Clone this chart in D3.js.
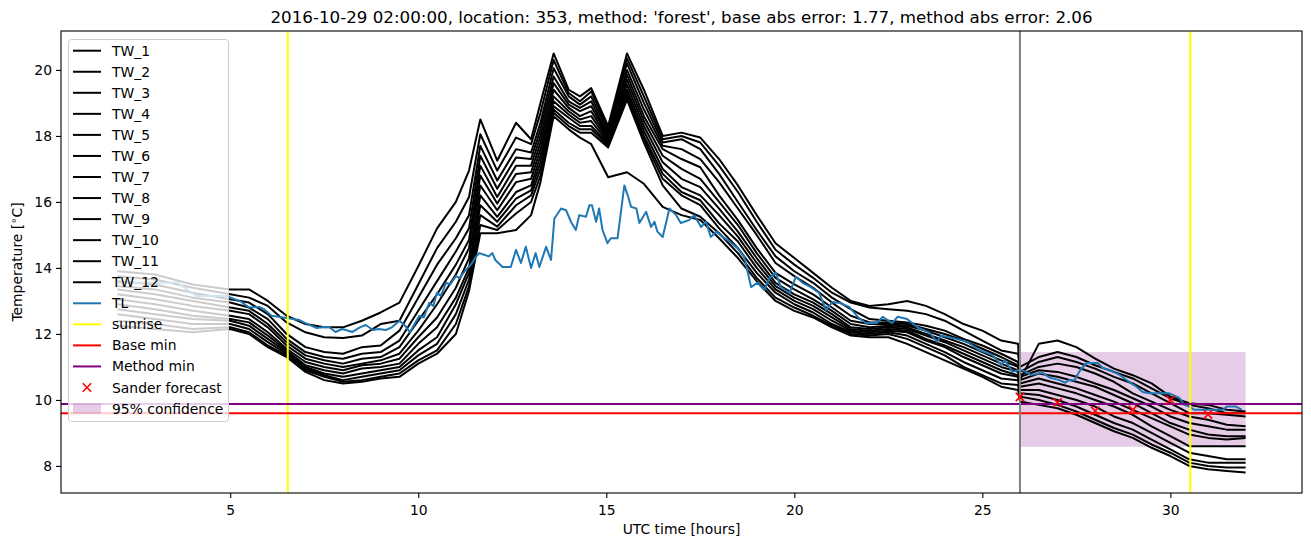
<!DOCTYPE html>
<html><head><meta charset="utf-8">
<script src="https://cdn.jsdelivr.net/npm/d3@7"></script>
<style>
body{margin:0;background:#fff;}
text{font-family:"DejaVu Sans",sans-serif;}
</style></head>
<body>
<svg id="chart" width="1311" height="547"></svg>
<script>
// ---------------- data ----------------
const titleText = "2016-10-29 02:00:00, location: 353, method: 'forest', base abs error: 1.77, method abs error: 2.06";
const xTicks = [5, 10, 15, 20, 25, 30];
const yTicks = [8, 10, 12, 14, 16, 18, 20];

const twTime = [2,3,4,5,5.5,6,6.5,7,7.5,8,8.5,9,9.5,10,10.5,11,11.35,11.65,12.1,12.6,13.0,13.25,13.6,14.0,14.3,14.6,15.05,15.55,16.0,16.5,17.0,17.5,18.0,18.5,19.0,19.5,20.0,20.5,21.0,21.5,22.0,22.5,23.0,23.5,24.0,24.5,25.0,25.5,25.95,26.0,26.5,27.0,27.5,28.0,28.5,29.0,29.5,30.0,30.5,31.0,31.5,32.0];

const TW_1 = [13.9,13.8,13.5,13.35,13.35,13.0,12.55,12.3,12.2,12.2,12.4,12.65,12.95,14.05,15.2,16.0,16.95,18.5,17.25,18.4,17.9,19.0,20.5,19.4,19.2,19.45,18.3,20.5,19.4,18.0,18.1,17.95,17.3,16.5,15.6,14.75,14.3,13.85,13.4,13.0,12.85,12.9,13.0,12.85,12.6,12.3,12.1,11.8,11.7,10.6,11.7,11.8,11.6,11.25,10.95,10.75,10.5,10.1,9.9,9.85,9.7,9.65];
const TW_2 = [13.75,13.65,13.4,13.2,13.1,12.85,12.35,12.05,11.9,11.88,11.95,12.3,12.4,13.5,14.6,15.4,16.15,18.05,16.95,17.95,17.75,18.7,20.3,19.3,19.05,19.35,18.2,20.35,19.2,17.9,18.0,17.8,17.1,16.3,15.4,14.55,14.1,13.7,13.25,12.95,12.8,12.75,12.7,12.6,12.4,12.1,11.8,11.5,11.4,11.0,11.3,11.45,11.3,11.05,10.85,10.65,10.35,10.05,9.85,9.75,9.6,9.6];
const TW_3 = [13.6,13.5,13.25,13.05,12.95,12.6,12.0,11.6,11.45,11.4,11.6,11.65,12.1,13.1,14.1,14.9,15.6,17.7,16.65,17.6,17.5,18.4,20.05,19.2,18.95,19.2,18.1,20.2,19.0,17.8,17.9,17.6,16.85,16.0,15.15,14.35,13.9,13.55,13.1,12.75,12.45,12.4,12.35,12.25,12.1,11.85,11.65,11.4,11.15,10.85,11.15,11.3,11.15,10.95,10.7,10.5,10.2,9.9,9.6,9.6,9.55,9.5];
const TW_4 = [13.45,13.35,13.1,12.95,12.8,12.45,11.85,11.45,11.3,11.25,11.4,11.45,11.8,12.7,13.6,14.5,15.2,17.4,16.4,17.35,17.3,18.2,19.8,19.05,18.85,19.05,18.0,20.0,18.8,17.7,17.6,17.3,16.6,15.8,15.0,14.15,13.75,13.4,12.95,12.55,12.35,12.35,12.3,12.15,12.0,11.8,11.55,11.3,11.05,10.75,11.0,11.1,11.0,10.8,10.55,10.2,9.95,9.7,9.5,9.4,9.25,9.2];
const TW_5 = [13.35,13.2,13.0,12.8,12.7,12.3,11.75,11.35,11.2,11.1,11.25,11.3,11.6,12.4,13.2,14.1,14.85,17.1,16.15,17.1,17.1,18.0,19.6,18.95,18.75,18.9,17.95,19.85,18.6,17.6,17.3,17.05,16.2,15.45,14.6,13.85,13.5,13.2,12.8,12.4,12.3,12.3,12.25,12.1,11.9,11.7,11.45,11.2,11.0,10.7,10.9,10.85,10.7,10.5,10.3,10.05,9.8,9.5,9.3,9.2,9.1,9.1];
const TW_6 = [13.2,13.05,12.85,12.7,12.6,12.2,11.65,11.25,11.1,11.0,11.1,11.2,11.4,12.1,12.9,13.8,14.6,16.8,15.95,16.85,16.9,17.8,19.4,18.85,18.6,18.75,17.9,19.7,18.45,17.4,17.0,16.7,16.0,15.3,14.45,13.7,13.35,13.05,12.7,12.3,12.2,12.25,12.2,12.0,11.8,11.6,11.35,11.1,10.9,10.6,10.8,10.7,10.55,10.4,10.15,9.9,9.6,9.3,9.1,8.95,8.9,8.9];
const TW_7 = [13.05,12.9,12.7,12.55,12.45,12.05,11.55,11.15,11.0,10.9,11.05,11.1,11.25,11.9,12.5,13.4,14.3,16.5,15.75,16.6,16.7,17.6,19.2,18.75,18.5,18.6,17.85,19.55,18.3,17.2,16.7,16.45,15.8,15.1,14.3,13.55,13.2,12.95,12.6,12.2,12.15,12.2,12.15,11.95,11.75,11.5,11.25,11.0,10.85,10.5,10.65,10.5,10.35,10.15,9.95,9.7,9.45,9.2,8.95,8.85,8.8,8.85];
const TW_8 = [12.9,12.75,12.55,12.45,12.35,11.95,11.5,11.05,10.9,10.8,10.95,11.0,11.1,11.7,12.2,13.1,14.0,16.2,15.55,16.3,16.5,17.4,19.05,18.65,18.4,18.45,17.8,19.4,18.15,17.0,16.45,16.2,15.6,14.95,14.15,13.45,13.1,12.85,12.5,12.15,12.1,12.15,12.1,11.85,11.65,11.4,11.15,10.9,10.75,10.4,10.5,10.35,10.2,10.0,9.8,9.55,9.2,8.9,8.6,8.6,8.6,8.6];
const TW_9 = [12.75,12.6,12.45,12.4,12.25,11.85,11.45,11.0,10.8,10.7,10.8,10.9,11.0,11.5,11.9,12.9,13.85,15.9,15.4,16.1,16.35,17.2,18.9,18.55,18.3,18.3,17.75,19.3,18.0,16.85,16.3,16.05,15.35,14.8,14.0,13.35,13.0,12.75,12.4,12.1,12.05,12.1,12.05,11.8,11.6,11.3,11.05,10.8,10.7,10.3,10.3,10.15,10.0,9.8,9.5,9.3,9.0,8.7,8.4,8.3,8.2,8.2];
const TW_10 = [12.6,12.45,12.3,12.3,12.15,11.75,11.4,10.95,10.75,10.6,10.7,10.8,10.9,11.35,11.7,12.6,13.65,15.6,15.25,15.9,16.2,17.0,18.8,18.4,18.2,18.2,17.7,19.2,17.9,16.7,16.2,15.9,15.2,14.6,13.85,13.25,12.9,12.65,12.3,12.05,12.0,12.05,11.95,11.7,11.45,11.15,10.9,10.65,10.6,10.2,10.15,10.0,9.8,9.55,9.3,9.1,8.8,8.5,8.2,8.1,8.1,8.1];
const TW_11 = [12.4,12.3,12.15,12.2,12.05,11.65,11.35,10.9,10.7,10.55,10.6,10.7,10.8,11.2,11.5,12.3,13.45,15.3,15.15,15.65,16.0,16.8,18.7,18.3,18.1,18.1,17.65,19.1,17.8,16.5,15.8,15.55,15.05,14.45,13.7,13.1,12.8,12.55,12.25,12.0,11.95,12.0,11.85,11.6,11.35,11.0,10.75,10.5,10.45,10.1,10.0,9.85,9.65,9.4,9.15,8.95,8.65,8.4,8.1,8.0,7.95,7.95];
const TW_12 = [12.25,12.15,12.05,12.15,12.0,11.6,11.3,10.85,10.6,10.5,10.55,10.65,10.7,11.1,11.4,12.0,13.3,15.05,15.05,15.15,15.6,16.6,18.6,18.2,17.95,17.75,16.75,16.9,16.55,15.85,15.6,15.45,14.9,14.3,13.6,13.0,12.7,12.5,12.2,11.95,11.9,11.9,11.7,11.45,11.2,10.95,10.7,10.4,10.3,9.95,9.85,9.75,9.55,9.3,9.05,8.85,8.55,8.3,8.0,7.9,7.85,7.8];

const twNames = ["TW_1","TW_2","TW_3","TW_4","TW_5","TW_6","TW_7","TW_8","TW_9","TW_10","TW_11","TW_12"];
const twSeries = [TW_1,TW_2,TW_3,TW_4,TW_5,TW_6,TW_7,TW_8,TW_9,TW_10,TW_11,TW_12];

const tlTime = [2.0,2.5,3.0,3.6,4.1,4.5,4.9,5.3,5.5,5.77,5.9,6.1,6.5,6.84,7.0,7.3,7.5,7.63,7.8,7.98,8.25,8.45,8.6,8.8,8.95,9.14,9.3,9.5,9.65,9.78,9.9,10.03,10.15,10.29,10.4,10.5,10.6,10.74,10.85,11.0,11.1,11.27,11.4,11.53,11.62,11.75,11.88,11.97,12.05,12.24,12.46,12.6,12.73,12.86,13.0,13.12,13.22,13.4,13.53,13.62,13.8,13.93,14.06,14.19,14.28,14.46,14.55,14.62,14.73,14.81,14.9,15.03,15.12,15.3,15.48,15.57,15.66,15.8,15.88,16.06,16.19,16.28,16.36,16.5,16.68,16.86,16.98,17.2,17.34,17.52,17.65,17.78,17.92,18.1,18.27,18.49,18.67,18.85,19.02,19.2,19.34,19.51,19.64,19.87,20.04,20.22,20.44,20.66,20.84,21.02,21.2,21.46,21.7,21.9,22.2,22.35,22.6,22.75,23.0,23.3,23.6,23.8,23.9,24.2,24.6,24.9,25.27,25.5,25.6,25.8,25.95,26.07,26.3,26.6,26.8,27.05,27.2,27.3,27.45,27.6,27.77,28.07,28.2,28.4,28.65,28.9,29.1,29.26,29.44,29.97,30.24,30.37,30.5,30.64,31.04,31.4,31.5,31.75,31.9];
const tlValue = [13.55,13.55,13.55,13.55,13.15,13.15,13.15,12.97,12.8,12.82,12.75,12.55,12.48,12.42,12.33,12.18,12.21,12.21,12.06,12.15,12.06,12.2,12.27,12.12,12.15,12.12,12.2,12.4,12.25,12.05,12.3,12.55,12.5,12.94,12.85,13.25,13.15,13.55,13.5,13.75,13.7,13.95,14.1,14.33,14.45,14.4,14.35,14.45,14.24,14.03,14.03,14.55,14.15,14.64,14.0,14.45,14.03,14.64,14.24,15.5,15.8,15.75,15.4,15.15,15.6,15.55,15.9,15.9,15.4,15.8,15.15,14.75,14.9,14.9,16.5,16.2,15.85,15.8,15.36,15.7,15.24,15.4,15.1,14.94,15.8,15.6,15.36,15.45,15.6,15.24,15.4,14.94,15.1,14.94,14.8,14.6,14.33,13.42,13.55,13.33,13.7,13.85,13.42,13.24,13.73,13.55,13.42,13.24,12.73,12.97,12.94,12.82,12.5,12.33,12.33,12.52,12.33,12.52,12.45,12.18,12.03,11.76,11.95,11.88,11.76,11.52,11.36,11.06,11.2,10.85,10.9,10.9,10.76,10.82,10.67,10.6,10.52,10.6,10.6,10.9,11.12,11.12,10.97,10.9,10.76,10.55,10.4,10.24,10.2,10.2,10.06,9.85,9.8,9.7,9.7,9.7,9.8,9.8,9.7];

const sunriseTimes = [6.53, 30.53];
const forecastTime = 26;
const baseMin = 9.6;
const methodMin = 9.88;
const sanderTime = [26, 27, 28, 29, 30, 31];
const sanderValue = [10.09, 9.92, 9.67, 9.7, 10.0, 9.56];
const confTime = [26, 32];
const confRange = [8.58, 11.45];

const legendLabels = ["TW_1","TW_2","TW_3","TW_4","TW_5","TW_6","TW_7","TW_8","TW_9","TW_10","TW_11","TW_12","TL","sunrise","Base min","Method min","Sander forecast","95% confidence"];

// ---------------- drawing ----------------
const svg = d3.select("#chart");
const L = 61, R = 1302, T = 31, B = 493;
const x = d3.scaleLinear().domain([0.5, 33.5]).range([L, R]);
const y = d3.scaleLinear().domain([7.18, 21.18]).range([B, T]);

svg.append("rect").attr("width",1311).attr("height",547).attr("fill","#fff");
svg.append("defs").append("clipPath").attr("id","clip")
  .append("rect").attr("x",L).attr("y",T).attr("width",R-L).attr("height",B-T);

const plot = svg.append("g").attr("clip-path","url(#clip)");

// confidence box
plot.append("rect")
  .attr("x", x(confTime[0])).attr("width", x(confTime[1]) - x(confTime[0]))
  .attr("y", y(confRange[1])).attr("height", y(confRange[0]) - y(confRange[1]))
  .attr("fill","purple").attr("fill-opacity",0.2);

const line = d3.line().x(d => x(d[0])).y(d => y(d[1]));

twSeries.forEach(s => {
  plot.append("path").datum(d3.zip(twTime, s))
    .attr("d", line).attr("fill","none").attr("stroke","#000")
    .attr("stroke-width",2).attr("stroke-linejoin","round");
});
plot.append("path").datum(d3.zip(tlTime, tlValue))
  .attr("d", line).attr("fill","none").attr("stroke","#1f77b4")
  .attr("stroke-width",2).attr("stroke-linejoin","round");

sunriseTimes.forEach(t => {
  plot.append("line").attr("x1",x(t)).attr("x2",x(t)).attr("y1",T).attr("y2",B)
    .attr("stroke","yellow").attr("stroke-width",2);
});
plot.append("line").attr("x1",L).attr("x2",R).attr("y1",y(baseMin)).attr("y2",y(baseMin))
  .attr("stroke","red").attr("stroke-width",2);
plot.append("line").attr("x1",L).attr("x2",R).attr("y1",y(methodMin)).attr("y2",y(methodMin))
  .attr("stroke","purple").attr("stroke-width",2);
plot.append("line").attr("x1",x(forecastTime)).attr("x2",x(forecastTime)).attr("y1",T).attr("y2",B)
  .attr("stroke","gray").attr("stroke-width",2);

function xMark(g, cx, cy, r) {
  g.append("path").attr("d",`M${cx-r},${cy-r}L${cx+r},${cy+r}M${cx-r},${cy+r}L${cx+r},${cy-r}`)
    .attr("stroke","red").attr("stroke-width",1.6).attr("fill","none");
}
d3.zip(sanderTime, sanderValue).forEach(d => xMark(plot, x(d[0]), y(d[1]), 4.2));

// axes
const xAxis = d3.axisBottom(x).tickValues(xTicks).tickSize(5).tickSizeOuter(0).tickPadding(4);
const yAxis = d3.axisLeft(y).tickValues(yTicks).tickSize(5).tickSizeOuter(0).tickPadding(4);
const gx = svg.append("g").attr("transform",`translate(0,${B})`).call(xAxis);
const gy = svg.append("g").attr("transform",`translate(${L},0)`).call(yAxis);
[gx, gy].forEach(g => {
  g.select(".domain").remove();
  g.selectAll("text").attr("font-family","DejaVu Sans").attr("font-size","13.9px").attr("fill","#000");
  g.selectAll("line").attr("stroke","#000").attr("stroke-width",1.1);
});
gx.selectAll("text").attr("dy","0.95em");
svg.append("rect").attr("x",L).attr("y",T).attr("width",R-L).attr("height",B-T)
  .attr("fill","none").attr("stroke","#000").attr("stroke-width",1.1);

// labels
svg.append("text").attr("x",(L+R)/2).attr("y",23).attr("text-anchor","middle")
  .attr("font-size","16.7px").text(titleText);
svg.append("text").attr("x",(L+R)/2).attr("y",534).attr("text-anchor","middle")
  .attr("font-size","13.9px").text("UTC time [hours]");
const yl = svg.append("text").attr("transform",`translate(22,${(T+B)/2}) rotate(-90)`)
  .attr("text-anchor","middle").attr("font-size","13.9px");
yl.append("tspan").text("Temperature [");
yl.append("tspan").attr("font-size","10px").attr("dy","-5").text("\u2218");
yl.append("tspan").attr("dy","5").text("C]");

// legend
const lg = svg.append("g");
lg.append("rect").attr("x",68.5).attr("y",39.5).attr("width",160).attr("height",382).attr("rx",3)
  .attr("fill","#fff").attr("fill-opacity",0.8).attr("stroke","#cccccc").attr("stroke-width",1);
const legendColors = twNames.map(() => "#000").concat(["#1f77b4","yellow","red","purple"]);
legendLabels.forEach((lab, i) => {
  const yy = 50.7 + i * 21.05;
  if (i < legendColors.length) {
    lg.append("line").attr("x1",73).attr("x2",101).attr("y1",yy).attr("y2",yy)
      .attr("stroke",legendColors[i]).attr("stroke-width",2);
  } else if (lab === "Sander forecast") {
    xMark(lg, 87, yy, 4.2);
  } else {
    lg.append("rect").attr("x",73).attr("y",yy-5).attr("width",28).attr("height",10)
      .attr("fill","purple").attr("fill-opacity",0.2);
  }
  lg.append("text").attr("x",112).attr("y",yy).attr("dy","0.36em")
    .attr("font-size","13.9px").text(lab);
});
</script>
</body></html>
